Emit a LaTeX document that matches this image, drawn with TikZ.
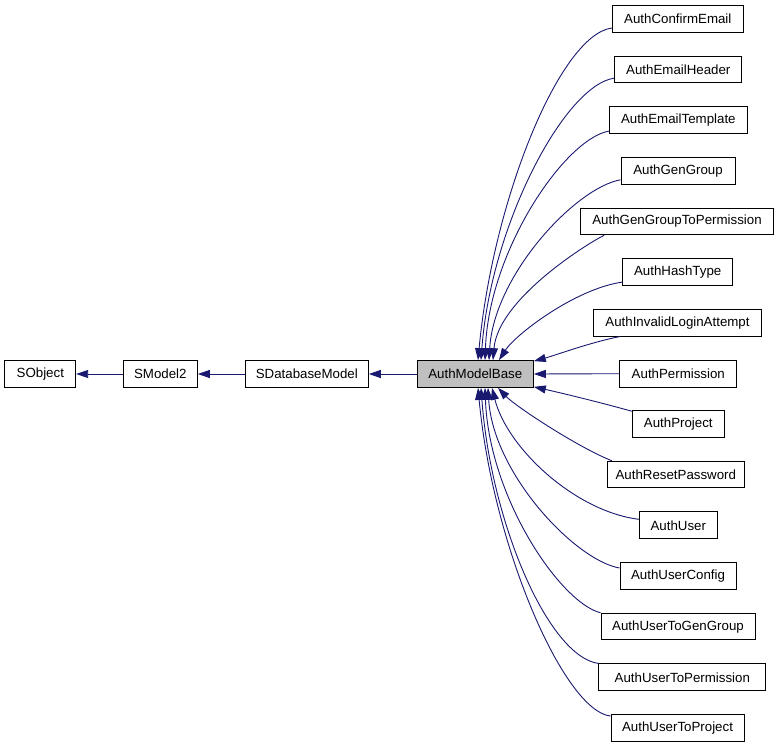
\documentclass[tikz,border=0pt]{standalone}
\usepackage{fontspec}
\setmainfont{Liberation Sans}
\usetikzlibrary{arrows.meta,calc}
\definecolor{edgeblue}{HTML}{191970}
\definecolor{basegray}{HTML}{BFBFBF}
\begin{document}
\begin{tikzpicture}[x=1pt,y=-1pt,
  cls/.style={draw=black,line width=1pt,rectangle,inner sep=0pt,minimum height=26.7pt,
    font=\fontsize{13.3}{16}\selectfont,anchor=center},
  edge/.style={draw=edgeblue,line width=0.9pt,-{Triangle[length=12pt,width=8pt]}}]
\useasboundingbox (0,0) rectangle (778,746);
% left chain
\node[cls,minimum width=70.7pt] (sobj) at (40.3,374) {SObject};
\node[cls,minimum width=74pt] (smod) at (160.3,374) {SModel2};
\node[cls,minimum width=123pt] (sdb) at (306.8,374) {SDatabaseModel};
\node[cls,minimum width=116pt,fill=basegray] (amb) at (475.3,374) {AuthModelBase};
% right column
\node[cls,minimum width=131pt] (ce) at (677.8,18.8) {AuthConfirmEmail};
\node[cls,minimum width=126.7pt] (eh) at (678.3,69.4) {AuthEmailHeader};
\node[cls,minimum width=138pt] (et) at (678.3,120.1) {AuthEmailTemplate};
\node[cls,minimum width=114pt] (gg) at (678,170.8) {AuthGenGroup};
\node[cls,minimum width=192.6pt] (ggp) at (677,221.4) {AuthGenGroupToPermission};
\node[cls,minimum width=110pt] (ht) at (677.7,272.1) {AuthHashType};
\node[cls,minimum width=168.4pt] (ila) at (677.5,322.7) {AuthInvalidLoginAttempt};
\node[cls,minimum width=116.7pt] (perm) at (678.3,373.7) {AuthPermission};
\node[cls,minimum width=92pt] (proj) at (678.3,424.1) {AuthProject};
\node[cls,minimum width=137pt] (rp) at (675.8,474.6) {AuthResetPassword};
\node[cls,minimum width=78pt] (usr) at (678.3,525.3) {AuthUser};
\node[cls,minimum width=116pt] (uc) at (678,576) {AuthUserConfig};
\node[cls,minimum width=154pt] (ugg) at (678,626.6) {AuthUserToGenGroup};
\node[cls,minimum width=166.7pt] (up) at (682.3,677.3) {AuthUserToPermission};
\node[cls,minimum width=133pt] (upr) at (677.5,727.9) {AuthUserToProject};
% chain edges
\draw[edge] (amb.west) -- (sdb.east);
\draw[edge] (sdb.west) -- (smod.east);
\draw[edge] (smod.west) -- (sobj.east);
% upper fan
\draw[edge] ($(ce.west)+(0,9.2)$) .. controls +(-52,7) and +(15,-160) .. ($(amb.north)+(2.7,0)$);
\draw[edge] ($(eh.west)+(0,8.7)$) .. controls +(-50,7) and +(10,-135) .. ($(amb.north)+(5.7,0)$);
\draw[edge] ($(et.west)+(0,11)$) .. controls +(-44,8) and +(4,-110) .. ($(amb.north)+(9.7,0)$);
\draw[edge] ($(gg.west)+(0,9)$) .. controls +(-45,8) and +(5,-85) .. ($(amb.north)+(13.7,0)$);
\draw[edge] ($(ggp.south west)+(24,0)$) .. controls +(-20,10) and +(5,-60) .. ($(amb.north)+(17.7,0)$);
\draw[edge] ($(ht.west)+(0,10)$) .. controls +(-48,7) and +(16,-25) .. ($(amb.north)+(23.7,0)$);
\draw[edge] ($(ila.south west)+(27,0)$) .. controls +(-30,6) and +(22,-6) .. ($(amb.north east)+(0,1)$);
% straight
\draw[edge] (perm.west) -- (amb.east);
% lower fan
\draw[edge] ($(proj.north west)+(0,1)$) .. controls +(-32,-9) and +(27,6) .. ($(amb.south east)+(0,-1)$);
\draw[edge] ($(rp.north west)+(5,0)$) .. controls +(-35,-14) and +(17,18) .. ($(amb.south)+(22.7,0)$);
\draw[edge] ($(usr.west)+(0,-6)$) .. controls +(-64,-8) and +(15,60) .. ($(amb.south)+(16.7,0)$);
\draw[edge] ($(uc.west)+(0,-8)$) .. controls +(-45,-8) and +(5,85) .. ($(amb.south)+(12.7,0)$);
\draw[edge] (ugg.north west) .. controls +(-40,-10) and +(4,110) .. ($(amb.south)+(9.7,0)$);
\draw[edge] (up.north west) .. controls +(-50,-7) and +(10,135) .. ($(amb.south)+(5.7,0)$);
\draw[edge] ($(upr.north west)+(0,2)$) .. controls +(-46,-5) and +(15,160) .. ($(amb.south)+(2.7,0)$);
\end{tikzpicture}
\end{document}
